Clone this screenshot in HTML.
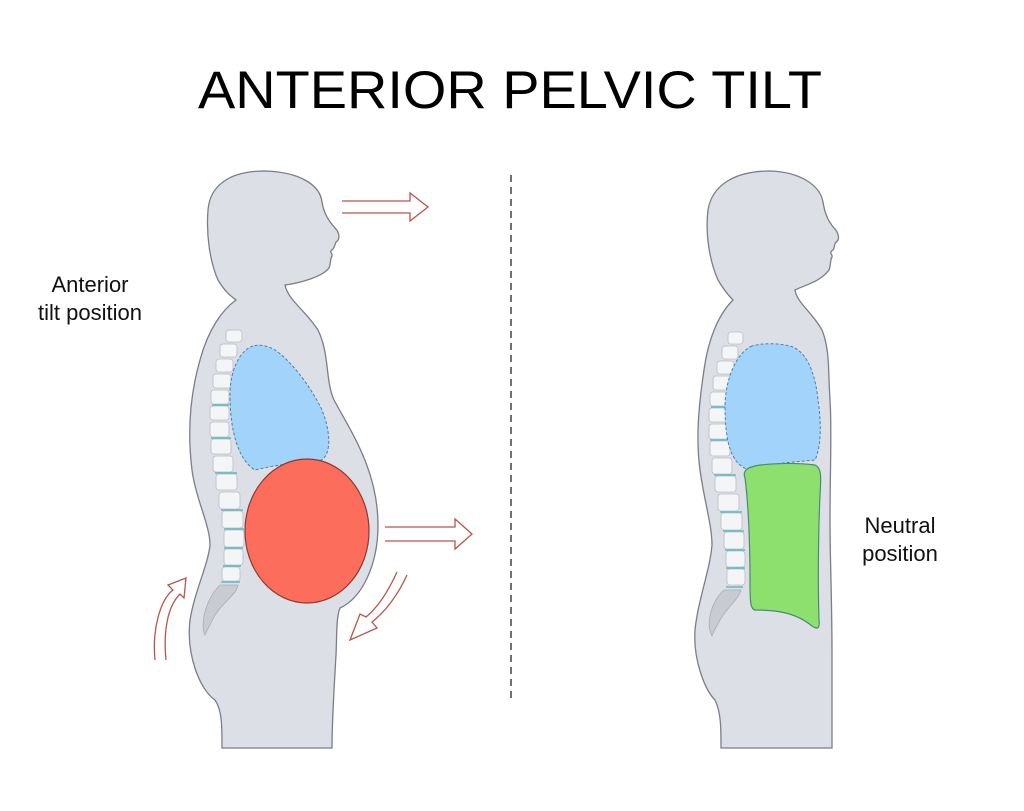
<!DOCTYPE html>
<html><head><meta charset="utf-8"><style>html,body{margin:0;padding:0;background:#fff}svg{display:block}</style></head>
<body>
<svg width="1024" height="811" viewBox="0 0 1024 811" xmlns="http://www.w3.org/2000/svg" font-family="Liberation Sans, Arial, sans-serif">
<rect width="1024" height="811" fill="#fff"/>
<text x="510" y="108" font-size="53" text-anchor="middle" textLength="624" lengthAdjust="spacingAndGlyphs" fill="#000">ANTERIOR PELVIC TILT</text>
<text x="90" y="292" font-size="22" text-anchor="middle" fill="#111">Anterior</text>
<text x="90" y="320" font-size="22" text-anchor="middle" fill="#111">tilt position</text>
<text x="900" y="533" font-size="22" text-anchor="middle" fill="#111">Neutral</text>
<text x="900" y="561" font-size="22" text-anchor="middle" fill="#111">position</text>
<line x1="511" y1="175" x2="511" y2="700" stroke="#444" stroke-width="1.5" stroke-dasharray="7,5"/>

<!-- left figure -->
<path d="M265,171 C230,171 210,185 208,210 C206,235 210,262 218,280 C225,292 232,297 236,300 C222,310 208,330 200,360 C190,395 187,430 192,470 C196,500 210,525 210,545 C208,565 195,590 190,620 C186,655 200,690 215,700 C222,710 222,725 222,748 L332,748 C332,720 334,690 336,655 C337,635 336,618 340,608 C362,598 378,565 378,525 C378,470 350,430 334,400 C325,380 330,355 318,330 C305,310 288,300 285,285 C300,283 322,277 329,268 C331,263 330,259 332,256 C333,253 328,252 333,249 C335,246 335,244 336,242 C340,240 340,233 335,228 C330,222 324,215 322,202 C320,185 300,172 265,171 Z" fill="#dcdfe6" stroke="#7a7e86" stroke-width="1.3"/>
<g fill="#f4f5f6" stroke="#b9bec4" stroke-width="0.8">
<rect x="226" y="330" width="16" height="12" rx="3"/>
<rect x="220" y="344" width="17" height="13" rx="3"/>
<rect x="216" y="359" width="17" height="13" rx="3"/>
<rect x="213" y="374" width="18" height="14" rx="3"/>
<rect x="211" y="390" width="18" height="14" rx="3"/>
<rect x="210" y="406" width="19" height="14" rx="3"/>
<rect x="210" y="422" width="19" height="15" rx="3"/>
<rect x="211" y="439" width="20" height="15" rx="3"/>
<rect x="213" y="456" width="20" height="16" rx="3"/>
<rect x="216" y="474" width="21" height="16" rx="3"/>
<rect x="219" y="492" width="21" height="17" rx="3"/>
<rect x="222" y="511" width="21" height="17" rx="3"/>
<rect x="224" y="530" width="20" height="17" rx="3"/>
<rect x="224" y="549" width="19" height="16" rx="3"/>
<rect x="222" y="567" width="18" height="14" rx="3"/>
</g>
<g stroke="#5fb8c2" stroke-width="1.5">
<line x1="212" y1="405" x2="229" y2="405"/><line x1="211" y1="438" x2="231" y2="438"/><line x1="215" y1="473" x2="237" y2="473"/>
<line x1="221" y1="510" x2="243" y2="510"/><line x1="224" y1="529" x2="244" y2="529"/><line x1="224" y1="548" x2="243" y2="548"/><line x1="223" y1="566" x2="241" y2="566"/><line x1="221" y1="582" x2="240" y2="582"/>
</g>
<path d="M220,585 L238,585 C236,595 225,600 215,615 C210,625 207,630 205,635 C200,625 205,600 220,585 Z" fill="#c8cbd0" stroke="#a9adb3" stroke-width="0.8"/>
<path d="M253,346 C240,350 230,370 230,395 C230,430 238,460 255,470 C275,465 300,462 322,460 C332,452 330,430 322,410 C310,385 290,360 275,350 C268,346 260,344 253,346 Z" fill="#a2d3fb" stroke="#4a7fb0" stroke-width="1" stroke-dasharray="3,2"/>
<ellipse cx="307" cy="531" rx="62" ry="72" fill="#fc6d5b" stroke="#8b3a30" stroke-width="1.2"/>

<g fill="none" stroke="#b9554a" stroke-width="1.3">
<path d="M342,201 L410,201 L410,193 L428,207 L410,221 L410,213 L342,213"/>
<path d="M385,527 L455,527 L455,519 L472,534 L455,549 L455,541 L385,541"/>
<path d="M407,575 C398,595 385,612 372,622 L377,628 L350,640 L360,614 L366,617 C378,607 388,592 397,572"/>
<path d="M155,660 C152,630 160,600 173,590 L168,585 L186,578 L184,598 L180,594 C168,606 163,630 166,660"/>
</g>

<!-- right figure -->
<path d="M770,171 C735,171 712,185 708,210 C705,235 710,262 718,280 C725,292 730,297 733,300 C718,315 708,340 704,370 C698,410 696,440 700,470 C704,500 712,525 712,545 C710,570 698,600 695,630 C693,660 705,690 715,700 C721,712 721,728 721,748 L832,748 C832,720 832,690 832,655 C832,600 830,560 830,520 C830,470 832,430 830,400 C828,370 830,350 822,330 C812,312 797,303 795,290 C805,285 820,282 829,270 C831,265 830,260 832,257 C833,254 828,253 833,250 C835,247 834,244 836,242 C840,240 839,233 834,228 C829,222 825,215 823,202 C820,185 800,172 770,171 Z" fill="#dcdfe6" stroke="#7a7e86" stroke-width="1.3"/>
<g fill="#f4f5f6" stroke="#b9bec4" stroke-width="0.8">
<rect x="728" y="332" width="15" height="12" rx="3"/>
<rect x="722" y="346" width="16" height="13" rx="3"/>
<rect x="717" y="361" width="17" height="13" rx="3"/>
<rect x="713" y="376" width="18" height="14" rx="3"/>
<rect x="710" y="392" width="18" height="14" rx="3"/>
<rect x="709" y="408" width="19" height="14" rx="3"/>
<rect x="709" y="424" width="19" height="15" rx="3"/>
<rect x="710" y="441" width="20" height="15" rx="3"/>
<rect x="712" y="458" width="20" height="16" rx="3"/>
<rect x="715" y="476" width="21" height="16" rx="3"/>
<rect x="718" y="494" width="21" height="17" rx="3"/>
<rect x="721" y="513" width="21" height="17" rx="3"/>
<rect x="724" y="532" width="20" height="17" rx="3"/>
<rect x="726" y="551" width="19" height="16" rx="3"/>
<rect x="727" y="569" width="18" height="16" rx="3"/>
</g>
<g stroke="#5fb8c2" stroke-width="1.5">
<line x1="711" y1="407" x2="728" y2="407"/><line x1="710" y1="440" x2="730" y2="440"/><line x1="714" y1="475" x2="736" y2="475"/>
<line x1="720" y1="512" x2="742" y2="512"/><line x1="723" y1="531" x2="744" y2="531"/><line x1="725" y1="550" x2="745" y2="550"/><line x1="726" y1="568" x2="745" y2="568"/><line x1="726" y1="587" x2="743" y2="587"/>
</g>
<path d="M724,590 L741,590 C738,600 728,606 720,620 C716,628 713,632 712,636 C706,625 710,603 724,590 Z" fill="#c8cbd0" stroke="#a9adb3" stroke-width="0.8"/>
<path d="M752,346 C738,352 726,375 725,405 C725,440 730,465 750,470 C770,463 795,462 815,460 C822,445 821,420 818,400 C815,370 805,350 790,346 C778,343 762,343 752,346 Z" fill="#a2d3fb" stroke="#4a7fb0" stroke-width="1" stroke-dasharray="3,2"/>
<path d="M745,478 C742,470 748,467 760,465 C780,463 800,463 815,465 C822,468 821,478 820,495 C818,540 818,590 819,620 C820,628 818,630 812,626 C795,612 775,610 755,610 C750,609 750,600 750,580 C750,540 748,500 745,478 Z" fill="#8de06e" stroke="#4a8a73" stroke-width="1.2"/>
</svg>
</body></html>
